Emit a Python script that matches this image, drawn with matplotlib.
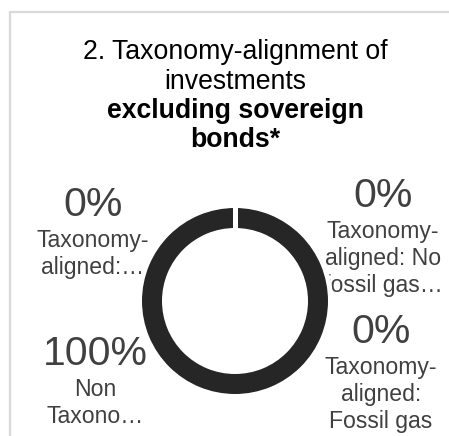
#!/usr/bin/env python3
# -*- coding: utf-8 -*-
"""
Doughnut chart: taxonomy-alignment of investments excluding sovereign bonds
"""

import matplotlib
matplotlib.use('Agg')
import numpy as np
import matplotlib.pyplot as plt
from matplotlib.patches import Rectangle

plt.rcParams['font.family'] = ['Liberation Sans', 'DejaVu Sans']

W, H = 449, 436  # px

# data (clockwise from 12 o'clock)
categories = ['Taxonomy-aligned: Fossil gas',
              'Taxonomy-aligned: Nuclear',
              'Taxonomy-aligned: No fossil gas & nuclear',
              'Non Taxonomy-aligned']
values = [0, 0, 0, 100]
# label text as shown on the chart (truncated by the cell width)
shown_names = [['Taxonomy-', 'aligned:', 'Fossil gas'],
               ['Taxonomy-', 'aligned:\u2026'],
               ['Taxonomy-', 'aligned: No', 'fossil gas\u2026'],
               ['Non', 'Taxono\u2026']]
title_lines = ['2. Taxonomy-alignment of', 'investments',
               'excluding sovereign', 'bonds*']
title_bold = [False, False, True, True]

# label anchors in px: (x center, baseline of percent)
label_pos = [(381, 343), (93, 216), (383, 207), (95, 365)]

ring_col = '#262626'
text_col = '#404040'

fig = plt.figure(figsize=(W/100, H/100), dpi=100)

def fx(x):
    return x / W

def fy(y):
    return 1 - y / H

# frame of the chart area
fig.patches.append(Rectangle((fx(10), fy(460)), fx(470), fy(12) - fy(460),
                             transform=fig.transFigure, fill=False,
                             edgecolor='#d9d9d9', linewidth=1.6,
                             clip_on=False))

# title
ty = [59, 89, 118, 147]
for line, bold, y in zip(title_lines, title_bold, ty):
    fig.text(fx(235), fy(y), line, ha='center', va='baseline',
             fontsize=19.2, color='black',
             fontweight='bold' if bold else 'normal')

# labels (below the ring, the ring overlaps one of them)
for v, names, (x, y) in zip(values, shown_names, label_pos):
    fig.text(fx(x), fy(y), '%d%%' % v, ha='center', va='baseline',
             fontsize=29.5, color=text_col, zorder=1)
    for k, nm in enumerate(names):
        fig.text(fx(x), fy(y + 31 + 27*k), nm, ha='center', va='baseline',
                 fontsize=16.6, color=text_col, zorder=1)

# doughnut
cx, cy, r = 235, 301, 95.5
wfrac = 25/r
ax = fig.add_axes([fx(cx - r), fy(cy + r), 2*r/W, 2*r/H])
ax.set_zorder(2)
ax.patch.set_alpha(0)
wedges, _ = ax.pie(values, startangle=90, counterclock=False,
                   colors=[ring_col]*len(values),
                   wedgeprops=dict(width=wfrac, edgecolor='white',
                                   linewidth=3.6))
# slice borders (a full 360 deg wedge has no radial edges of its own)
ang = np.deg2rad(90 - 360*np.cumsum([0] + values[:-1]) / sum(values))
for a in np.unique(np.round(ang, 6)):
    ax.plot([(1 - wfrac)*np.cos(a), np.cos(a)],
            [(1 - wfrac)*np.sin(a), np.sin(a)],
            color='white', linewidth=3.6, solid_capstyle='butt')
ax.set_xlim(-1, 1)
ax.set_ylim(-1, 1)
ax.set_aspect('equal')
ax.axis('off')

fig.savefig('out.png', dpi=100)
